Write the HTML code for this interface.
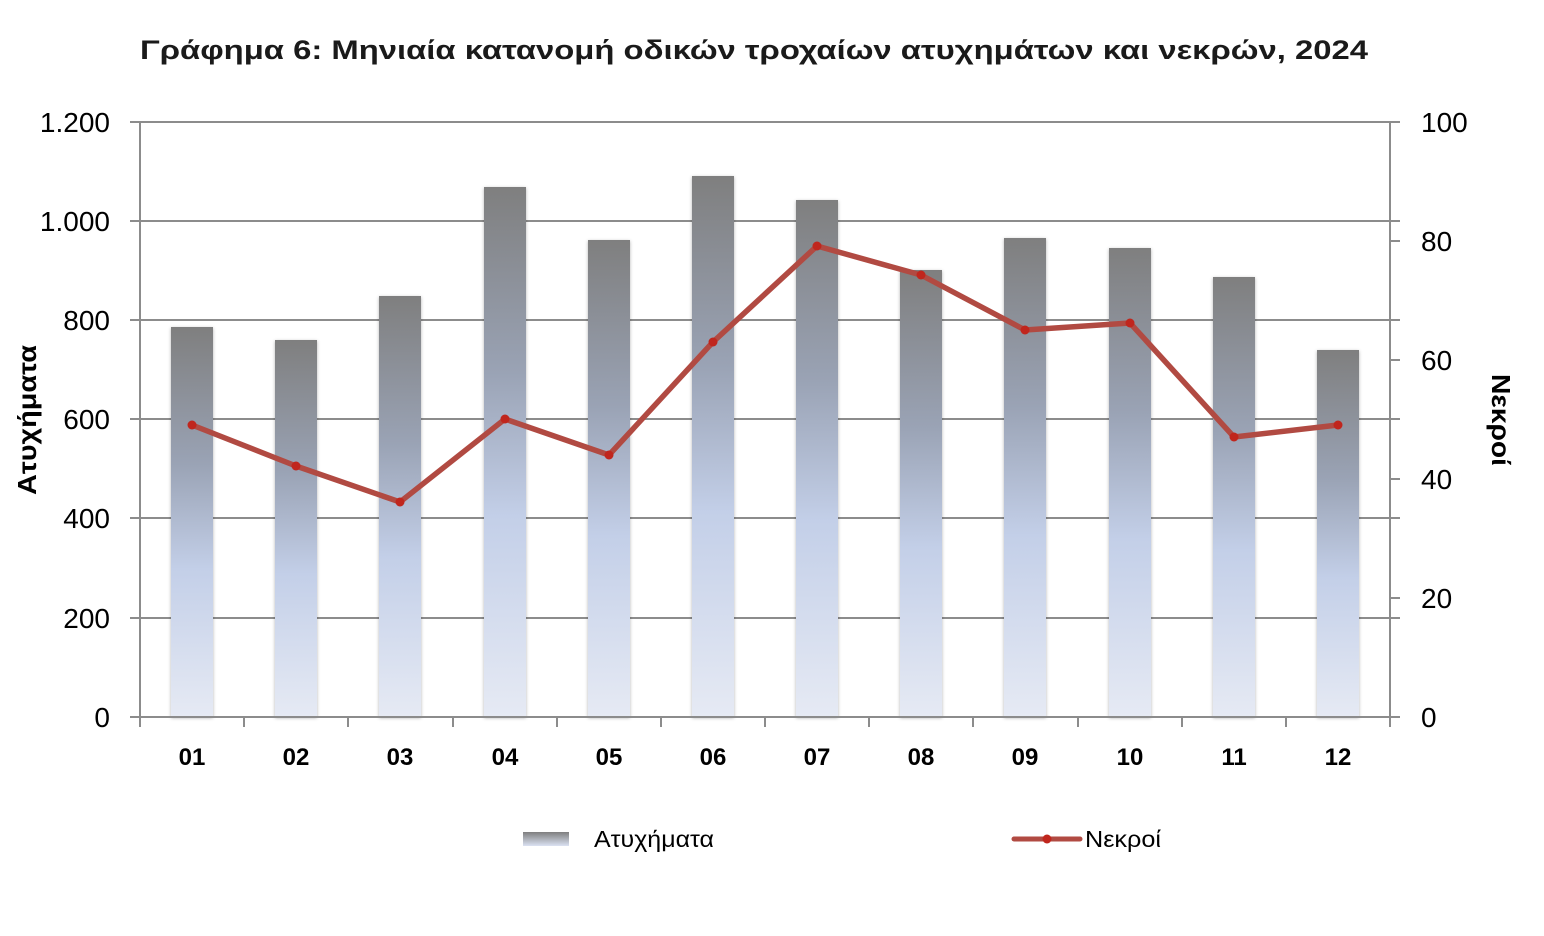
<!DOCTYPE html>
<html><head><meta charset="utf-8"><style>body{margin:0;background:#fff}svg{display:block}</style></head>
<body>
<svg width="1544" height="936" xmlns="http://www.w3.org/2000/svg" font-family="'Liberation Sans','DejaVu Sans',sans-serif">
<defs>
<linearGradient id="bg" x1="0" y1="0" x2="0" y2="1">
<stop offset="0" stop-color="#7f7f7f"/>
<stop offset="0.35" stop-color="#9aa3b5"/>
<stop offset="0.62" stop-color="#c3cfe8"/>
<stop offset="1" stop-color="#e6eaf4"/>
</linearGradient>
<linearGradient id="lg" x1="0" y1="0" x2="0" y2="1">
<stop offset="0" stop-color="#7f7f7f"/>
<stop offset="1" stop-color="#dbe2f2"/>
</linearGradient>
<filter id="sh" x="-20%" y="-5%" width="140%" height="110%"><feDropShadow dx="0" dy="1" stdDeviation="1.5" flood-color="#000" flood-opacity="0.3"/></filter>
</defs>
<text x="754" y="59" text-anchor="middle" font-size="27" font-weight="bold" fill="#1a1a1a" textLength="1228" lengthAdjust="spacingAndGlyphs">Γράφημα 6: Μηνιαία κατανομή οδικών τροχαίων ατυχημάτων και νεκρών, 2024</text>
<g stroke="#8c8c8c" stroke-width="2">
<line x1="130" y1="122" x2="1400" y2="122"/>
<line x1="130" y1="221" x2="1400" y2="221"/>
<line x1="130" y1="320" x2="1400" y2="320"/>
<line x1="130" y1="419" x2="1400" y2="419"/>
<line x1="130" y1="518" x2="1400" y2="518"/>
<line x1="130" y1="618" x2="1400" y2="618"/>
<line x1="1390" y1="241" x2="1400" y2="241"/>
<line x1="1390" y1="360" x2="1400" y2="360"/>
<line x1="1390" y1="479" x2="1400" y2="479"/>
<line x1="1390" y1="598" x2="1400" y2="598"/>
</g>
<g filter="url(#sh)" fill="url(#bg)">
<rect x="171" y="327" width="42" height="390"/>
<rect x="275" y="340" width="42" height="377"/>
<rect x="379" y="296" width="42" height="421"/>
<rect x="484" y="187" width="42" height="530"/>
<rect x="588" y="240" width="42" height="477"/>
<rect x="692" y="176" width="42" height="541"/>
<rect x="796" y="200" width="42" height="517"/>
<rect x="900" y="270" width="42" height="447"/>
<rect x="1004" y="238" width="42" height="479"/>
<rect x="1109" y="248" width="42" height="469"/>
<rect x="1213" y="277" width="42" height="440"/>
<rect x="1317" y="350" width="42" height="367"/>
</g>
<g stroke="#8c8c8c" stroke-width="2">
<line x1="140" y1="122" x2="140" y2="727"/>
<line x1="1390" y1="122" x2="1390" y2="727"/>
<line x1="130" y1="717" x2="1400" y2="717"/>
<line x1="244" y1="717" x2="244" y2="727"/><line x1="348" y1="717" x2="348" y2="727"/><line x1="453" y1="717" x2="453" y2="727"/><line x1="557" y1="717" x2="557" y2="727"/><line x1="661" y1="717" x2="661" y2="727"/><line x1="765" y1="717" x2="765" y2="727"/><line x1="869" y1="717" x2="869" y2="727"/><line x1="973" y1="717" x2="973" y2="727"/><line x1="1078" y1="717" x2="1078" y2="727"/><line x1="1182" y1="717" x2="1182" y2="727"/><line x1="1286" y1="717" x2="1286" y2="727"/>
</g>
<polyline fill="none" stroke="#b14a42" stroke-width="5.5" stroke-linejoin="round" points="192,425 296,466 400,502 505,419 609,455 713,342 817,246 921,275 1025,330 1130,323 1234,437 1338,425"/>
<g fill="#c0261d">
<circle cx="192" cy="425" r="4.5"/><circle cx="296" cy="466" r="4.5"/><circle cx="400" cy="502" r="4.5"/><circle cx="505" cy="419" r="4.5"/><circle cx="609" cy="455" r="4.5"/><circle cx="713" cy="342" r="4.5"/><circle cx="817" cy="246" r="4.5"/><circle cx="921" cy="275" r="4.5"/><circle cx="1025" cy="330" r="4.5"/><circle cx="1130" cy="323" r="4.5"/><circle cx="1234" cy="437" r="4.5"/><circle cx="1338" cy="425" r="4.5"/>
</g>
<g font-size="28" fill="#000" text-anchor="end">
<text x="110" y="132">1.200</text><text x="110" y="231">1.000</text><text x="110" y="330">800</text><text x="110" y="429">600</text><text x="110" y="528">400</text><text x="110" y="628">200</text><text x="110" y="727">0</text>
</g>
<g font-size="28" fill="#000">
<text x="1421" y="132">100</text><text x="1421" y="251">80</text><text x="1421" y="370">60</text><text x="1421" y="489">40</text><text x="1421" y="608">20</text><text x="1421" y="727">0</text>
</g>
<g font-size="24" font-weight="bold" fill="#000" text-anchor="middle">
<text x="192" y="765">01</text><text x="296" y="765">02</text><text x="400" y="765">03</text><text x="505" y="765">04</text><text x="609" y="765">05</text><text x="713" y="765">06</text><text x="817" y="765">07</text><text x="921" y="765">08</text><text x="1025" y="765">09</text><text x="1130" y="765">10</text><text x="1234" y="765">11</text><text x="1338" y="765">12</text>
</g>
<text transform="translate(36,420) rotate(-90)" text-anchor="middle" font-size="26" font-weight="bold" textLength="150" lengthAdjust="spacingAndGlyphs">Ατυχήματα</text>
<text transform="translate(1492,420) rotate(90)" text-anchor="middle" font-size="26" font-weight="bold" textLength="92" lengthAdjust="spacingAndGlyphs">Νεκροί</text>
<rect x="523" y="832" width="46" height="14" fill="url(#lg)"/>
<text x="594" y="847" font-size="23" textLength="120" lengthAdjust="spacingAndGlyphs">Ατυχήματα</text>
<line x1="1014" y1="839" x2="1080" y2="839" stroke="#b14a42" stroke-width="5" stroke-linecap="round"/>
<circle cx="1047" cy="839" r="4.5" fill="#c0261d"/>
<text x="1085" y="847" font-size="23" textLength="76" lengthAdjust="spacingAndGlyphs">Νεκροί</text>
</svg>
</body></html>
